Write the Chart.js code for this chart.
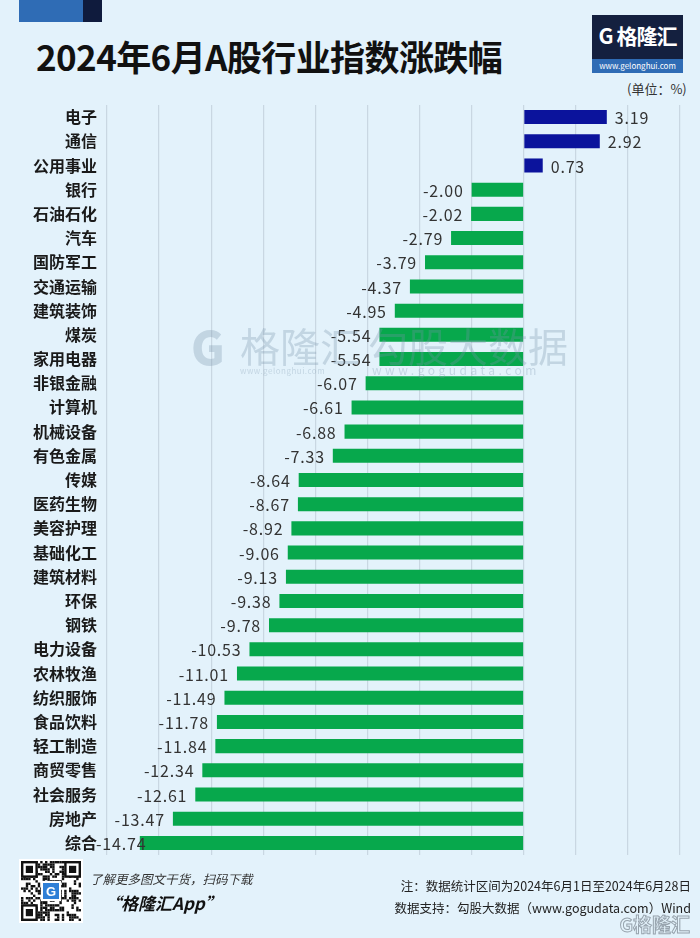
<!DOCTYPE html>
<html>
<head>
<meta charset="utf-8">
<script src="https://cdn.jsdelivr.net/npm/chart.js@4"></script>
<style>
  body { margin: 0; background: #e3f2fb; font-family: "Noto Sans CJK SC", "Noto Sans", sans-serif; }
  #page { position: relative; width: 700px; height: 938px; overflow: hidden; background: #e3f2fb; }
  #chartBox { position: absolute; left: 0; top: 0; width: 700px; height: 938px; }
  .abs { position: absolute; white-space: nowrap; }
  .deco1 { left: 19px; top: 0; width: 64px; height: 22px; background: #2f6cb5; }
  .deco2 { left: 83px; top: 0; width: 19px; height: 22px; background: #0f1b3d; }
  .title { left: 36px; top: 30px; font-size: 35px; font-weight: 700; color: #111; letter-spacing: -0.6px; }
  .logo { left: 592px; top: 15px; width: 91px; height: 58px; background: #14203f; }
  .logo .main { position: absolute; left: 0; top: 5px; width: 91px; text-align: center; color: #fff; font-size: 21px; font-weight: 700; letter-spacing: -1px; }
  .logo .url { position: absolute; left: 0; bottom: 0; width: 91px; height: 14px; background: #2f6cb5; color: #fff; font-size: 8px; line-height: 14px; text-align: center; }
  .unit { left: 627px; top: 79px; font-size: 13px; color: #333; }
  .wm { color: rgba(120,145,170,0.30); font-weight: 400; pointer-events: none; }
  .note { right: 9px; font-size: 12.5px; color: #222; }
</style>
</head>
<body>
<div id="page">
  <div class="abs deco1"></div>
  <div class="abs deco2"></div>
  <div class="abs title">2024年6月A股行业指数涨跌幅</div>
  <div class="abs logo"><div class="main">G 格隆汇</div><div class="url">www.gelonghui.com</div></div>
  <div class="abs unit">(单位：%)</div>
  <div id="chartBox"><canvas id="chart"></canvas></div>
  <div class="abs wm" style="left:191px;top:312px;font-size:46px;font-weight:900;">G</div>
  <div class="abs wm" style="left:240px;top:316px;font-size:40px;">格隆汇</div>
  <div class="abs wm" style="left:240px;top:365px;font-size:8px;letter-spacing:0.5px;">www.gelonghui.com</div>
  <div class="abs wm" style="left:368px;top:316px;font-size:40px;">勾股大数据</div>
  <div class="abs wm" style="left:372px;top:361px;font-size:12px;letter-spacing:3.5px;">www.gogudata.com</div>
  <canvas id="qr" class="abs" width="64" height="64" style="left:19px;top:859px;"></canvas>
  <div class="abs" style="left:90px;top:869px;font-size:12.5px;font-style:italic;color:#333;">了解更多图文干货，扫码下载</div>
  <div class="abs" style="left:104px;top:890px;font-size:17px;font-style:italic;font-weight:700;color:#111;">“格隆汇App”</div>
  <div class="abs note" style="top:876px;">注：数据统计区间为2024年6月1日至2024年6月28日</div>
  <div class="abs note" style="top:898px;">数据支持：勾股大数据（www.gogudata.com）Wind</div>
  <div class="abs" style="right:10px;top:910px;font-size:19px;font-weight:700;color:transparent;-webkit-text-stroke:1px #98a4ae;">G格隆汇</div>
</div>
<script>
// 行业 & 涨跌幅 (%)
const industries = ["电子","通信","公用事业","银行","石油石化","汽车","国防军工","交通运输","建筑装饰","煤炭",
  "家用电器","非银金融","计算机","机械设备","有色金属","传媒","医药生物","美容护理","基础化工","建筑材料",
  "环保","钢铁","电力设备","农林牧渔","纺织服饰","食品饮料","轻工制造","商贸零售","社会服务","房地产","综合"];
const changes = [3.19, 2.92, 0.73, -2.00, -2.02, -2.79, -3.79, -4.37, -4.95, -5.54,
  -5.54, -6.07, -6.61, -6.88, -7.33, -8.64, -8.67, -8.92, -9.06, -9.13,
  -9.38, -9.78, -10.53, -11.01, -11.49, -11.78, -11.84, -12.34, -12.61, -13.47, -14.74];
const axisMin = -16;
const axisMax = 6;
const axisStep = 2;

const UP = "#0b139c";
const DOWN = "#07a84c";

// value labels beside each bar end
const valueLabels = {
  id: "valueLabels",
  afterDatasetsDraw(chart) {
    const ctx = chart.ctx;
    const meta = chart.getDatasetMeta(0);
    ctx.save();
    ctx.font = '16px "Noto Sans CJK SC", sans-serif';
    ctx.letterSpacing = "0.8px";
    ctx.fillStyle = "#333";
    ctx.textBaseline = "middle";
    ctx.textAlign = "left";
    meta.data.forEach((bar, i) => {
      const v = changes[i];
      const txt = v.toFixed(2);
      const w = ctx.measureText(txt).width;
      let x = v >= 0 ? bar.x + 8 : bar.x - 8 - w;
      // keep clear of the category labels
      if (x < 96) x = 96;
      ctx.fillText(txt, x, bar.y + 1);
    });
    ctx.restore();
  }
};

new Chart(document.getElementById("chart"), {
  type: "bar",
  data: {
    labels: industries,
    datasets: [{
      data: changes,
      backgroundColor: changes.map(v => v >= 0 ? UP : DOWN),
      barPercentage: 0.58,
      categoryPercentage: 1.0
    }]
  },
  options: {
    indexAxis: "y",
    responsive: true,
    maintainAspectRatio: false,
    animation: false,
    layout: { padding: { top: 105, bottom: 83, left: 0, right: 20 } },
    plugins: { legend: { display: false }, tooltip: { enabled: false } },
    scales: {
      x: {
        min: axisMin, max: axisMax,
        ticks: { display: false, stepSize: axisStep },
        grid: { color: "#c9d7e2", lineWidth: 1.2, drawTicks: false },
        border: { display: false }
      },
      y: {
        afterFit: s => { s.width = 107; },
        ticks: { color: "#1a1a1a", padding: 10, font: { size: 16, weight: "bold", family: '"Noto Sans CJK SC", sans-serif' } },
        grid: { display: false, drawTicks: false },
        border: { display: false }
      }
    }
  },
  plugins: [valueLabels]
});

// QR-style badge (decorative)
(function () {
  const c = document.getElementById("qr").getContext("2d");
  c.fillStyle = "#fff"; c.fillRect(0, 0, 64, 64);
  c.fillStyle = "#111";
  const n = 25, s = 60 / n;
  let seed = 7;
  for (let r = 0; r < n; r++) for (let k = 0; k < n; k++) {
    seed = (seed * 73 + 41) % 997;
    if (seed % 2 === 0) c.fillRect(2 + k * s, 2 + r * s, s, s);
  }
  const finder = (x, y) => {
    c.fillStyle = "#111"; c.fillRect(x, y, 7 * s, 7 * s);
    c.fillStyle = "#fff"; c.fillRect(x + s, y + s, 5 * s, 5 * s);
    c.fillStyle = "#111"; c.fillRect(x + 2 * s, y + 2 * s, 3 * s, 3 * s);
  };
  finder(2, 2); finder(2 + 18 * s, 2); finder(2, 2 + 18 * s);
  c.fillStyle = "#fff"; c.fillRect(22, 22, 20, 20);
  c.fillStyle = "#2f7fd6"; c.fillRect(24, 24, 16, 16);
  c.fillStyle = "#fff"; c.font = "bold 13px sans-serif"; c.textAlign = "center"; c.textBaseline = "middle";
  c.fillText("G", 32, 33);
})();
</script>
</body>
</html>
